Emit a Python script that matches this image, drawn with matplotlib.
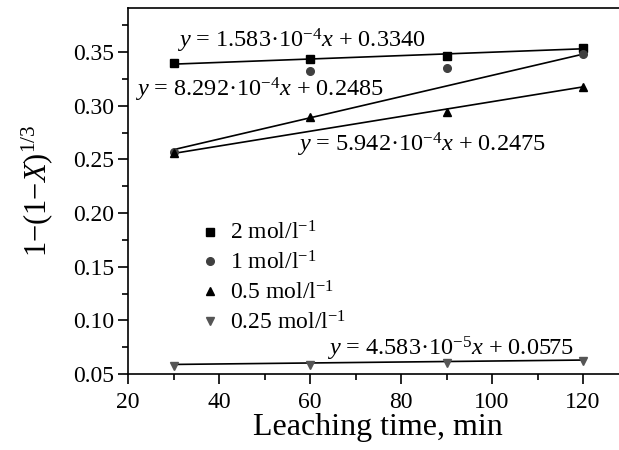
import matplotlib.pyplot as plt

plt.rcParams['font.family'] = ['Liberation Serif', 'DejaVu Serif']
plt.rcParams['mathtext.fontset'] = 'custom'
plt.rcParams['mathtext.rm'] = 'Liberation Serif'
plt.rcParams['mathtext.it'] = 'Liberation Serif:italic'

# leaching time, min
times = [30, 60, 90, 120]

# 1-(1-X)^(1/3) for each acid concentration
conc_2 = [0.3398, 0.3432, 0.3463, 0.3534]
conc_1 = [0.2570, 0.3323, 0.3348, 0.3479]
conc_05 = [0.2561, 0.2891, 0.2938, 0.3171]
conc_025 = [0.0577, 0.0586, 0.0600, 0.0620]

# fitted lines, value at first and last time
fit_x = [30, 120]
fit_2 = [0.3387, 0.3530]
fit_1 = [0.2590, 0.3480]
fit_05 = [0.2555, 0.3175]
fit_025 = [0.0589, 0.0630]

labels = ['2 mol/l$^{-1}$', '1 mol/l$^{-1}$', '0.5 mol/l$^{-1}$',
          '0.25 mol/l$^{-1}$']
equations = [r'$y$ = 1.583·10$^{-4}$$x$ + 0.3340',
             r'$y$ = 8.292·10$^{-4}$$x$ + 0.2485',
             r'$y$ = 5.942·10$^{-4}$$x$ + 0.2475',
             r'$y$ = 4.583·10$^{-5}$$x$ + 0.0575']


def main():
    fig = plt.figure(figsize=(6.19, 4.5), dpi=100)
    ax = fig.add_axes([128 / 619, 76 / 450, 500.5 / 619, 366 / 450])

    for fit in [fit_2, fit_1, fit_05, fit_025]:
        ax.plot(fit_x, fit, color='black', lw=1.2, zorder=2)

    ax.plot(times, conc_2, 's', color='black', ms=5.5, label=labels[0],
            zorder=3)
    ax.plot(times, conc_1, 'o', color='#404040', ms=5.5, label=labels[1],
            zorder=3)
    ax.plot(times, conc_05, '^', color='black', ms=6, label=labels[2],
            zorder=3)
    ax.plot(times, conc_025, 'v', color='#555555', ms=6, label=labels[3],
            zorder=3)

    ax.text(30.8, 0.3600, equations[0], fontsize=17.5, va='center')
    ax.text(21.5, 0.3147, equations[1], fontsize=17.5, va='center')
    ax.text(57.1, 0.2630, equations[2], fontsize=17.5, va='center')
    ax.text(63.7, 0.0732, equations[3], fontsize=17.5, va='center')

    ax.set_xlim(20, 130)
    ax.set_ylim(0.05, 0.391)
    ax.set_xticks([20, 40, 60, 80, 100, 120])
    ax.set_xticks([30, 50, 70, 90, 110], minor=True)
    ax.set_yticks([0.05, 0.10, 0.15, 0.20, 0.25, 0.30, 0.35])
    ax.set_yticks([0.075, 0.125, 0.175, 0.225, 0.275, 0.325, 0.375],
                  minor=True)
    ax.set_yticklabels(['0.05', '0.10', '0.15', '0.20', '0.25', '0.30',
                        '0.35'])
    ax.tick_params(which='major', direction='out', length=7, width=1.2,
                   labelsize=17)
    ax.tick_params(which='minor', direction='out', length=4, width=1.2)
    ax.tick_params(axis='x', which='major', pad=6)
    ax.tick_params(axis='y', which='major', pad=3)
    for spine in ax.spines.values():
        spine.set_linewidth(1.2)

    ax.set_xlabel('Leaching time, min', fontsize=23, labelpad=0)
    ax.set_ylabel('1$-$(1$-$$X$)$^{1/3}$', fontsize=22, labelpad=13)

    ax.legend(loc='upper left', bbox_to_anchor=(0.14, 0.416), frameon=False,
              fontsize=17, handlelength=1.0, handletextpad=0.36,
              labelspacing=0.28, borderpad=0, borderaxespad=0)

    fig.savefig('out.png', dpi=100)


if __name__ == '__main__':
    main()
